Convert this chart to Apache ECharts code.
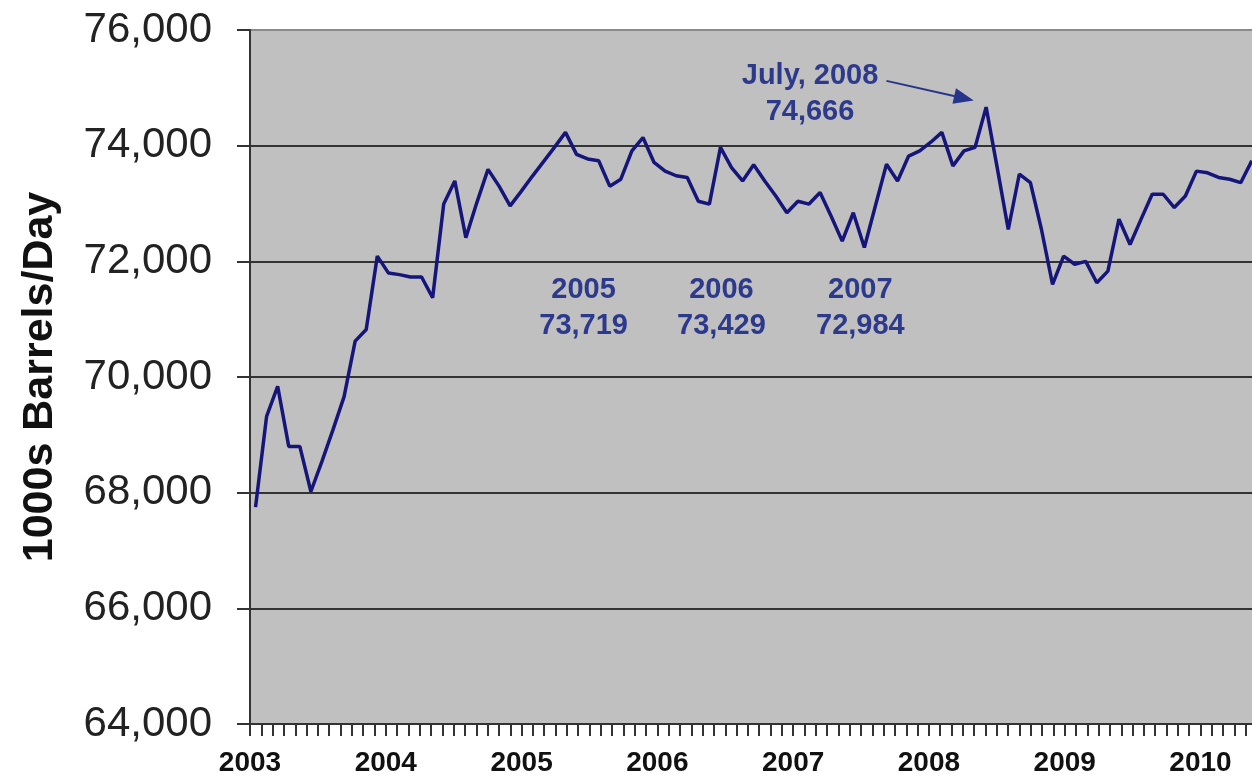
<!DOCTYPE html>
<html>
<head>
<meta charset="utf-8">
<script src="https://cdn.jsdelivr.net/npm/echarts@6/dist/echarts.min.js"></script>
<style>
html,body{margin:0;padding:0;background:#fff;}
#chart{width:1252px;height:777px;}
</style>
</head>
<body>
<div id="chart"></div>
<script>
// ---- data ----
const monthNames = ['Jan','Feb','Mar','Apr','May','Jun','Jul','Aug','Sep','Oct','Nov','Dec'];
const years = [2003, 2004, 2005, 2006, 2007, 2008, 2009, 2010];
const yearLabels = ['2003','2004','2005','2006','2007','2008','2009','2010'];
// monthly world oil production, 1000s barrels/day, from Jan 2003
const production2003 = [67750, 69320, 69840, 68800, 68800, 68020, 68540, 69090, 69660, 70620, 70820, 72090];
const production2004 = [71800, 71770, 71730, 71730, 71370, 72990, 73390, 72410, 73020, 73590, 73300, 72960];
const production2005 = [73210, 73470, 73720, 73970, 74230, 73850, 73770, 73740, 73300, 73420, 73910, 74140];
const production2006 = [73710, 73560, 73480, 73450, 73040, 72990, 73970, 73620, 73390, 73670, 73390, 73130];
const production2007 = [72840, 73040, 72990, 73190, 72780, 72350, 72840, 72240, 72960, 73680, 73390, 73820];
const production2008 = [73910, 74060, 74230, 73650, 73910, 73970, 74666, 73620, 72550, 73510, 73360, 72550];
const production2009 = [71600, 72090, 71950, 72000, 71630, 71830, 72730, 72290, 72730, 73160, 73160, 72930];
const production2010 = [73130, 73560, 73530, 73450, 73420, 73360, 73740];
const yTicks = [64000, 66000, 68000, 70000, 72000, 74000, 76000];
const yearAverages = [
  {year: '2005', value: '73,719'},
  {year: '2006', value: '73,429'},
  {year: '2007', value: '72,984'}
];
const peakLabel = {month: 'July, 2008', value: '74,666'};

// ---- build ----
const categories = [];
years.forEach(y => monthNames.forEach(m => categories.push(m + ' ' + y)));
const shownCats = categories.slice(0, 92);
const series = [].concat(production2003, production2004, production2005, production2006,
  production2007, production2008, production2009, production2010);
const tickCats = [];
for (let k = 0; k <= 90; k++) tickCats.push('t' + k);

const FONT = "'Liberation Sans', Arial, sans-serif";
const NAVY = '#15157a';
const ANNO = '#2d3a8c';

const chart = echarts.init(document.getElementById('chart'), null, {renderer: 'canvas'});
const annoLabel = {
  show: true, position: 'inside', color: ANNO, fontFamily: FONT,
  fontWeight: 'bold', fontSize: 29, lineHeight: 36
};
chart.setOption({
  animation: false,
  backgroundColor: '#ffffff',
  grid: {
    left: 250, top: 30, bottom: 53, width: 1018.4,
    outerBoundsMode: 'none',
    show: true, backgroundColor: '#c0c0c0', borderWidth: 0, containLabel: false
  },
  xAxis: [
    {
      type: 'category', data: shownCats, boundaryGap: true, position: 'bottom',
      axisLine: {show: true, lineStyle: {color: '#333', width: 2}},
      axisTick: {show: false}, axisLabel: {show: false}, splitLine: {show: false}
    },
    {
      type: 'category', data: tickCats, boundaryGap: false, position: 'bottom',
      axisLine: {show: false},
      axisTick: {show: true, interval: 0, length: 12, lineStyle: {color: '#333', width: 2}},
      axisLabel: {
        show: true, interval: 11, margin: 25,
        formatter: (v, idx) => yearLabels[idx / 12] || '',
        color: '#111', fontFamily: FONT, fontWeight: 'bold', fontSize: 28
      },
      splitLine: {show: false}
    }
  ],
  yAxis: {
    type: 'value', min: yTicks[0], max: yTicks[yTicks.length - 1], interval: 2000,
    name: '1000s Barrels/Day', nameLocation: 'middle', nameGap: 188,
    nameTextStyle: {color: '#111', fontFamily: FONT, fontWeight: 'bold', fontSize: 43},
    axisLine: {show: true, lineStyle: {color: '#333', width: 2}},
    axisTick: {show: true, length: 13, lineStyle: {color: '#333', width: 2}},
    axisLabel: {
      margin: 38, color: '#222', fontFamily: FONT, fontSize: 42,
      formatter: v => v.toLocaleString('en-US')
    },
    splitLine: {show: true, lineStyle: {color: ['#333','#333','#333','#333','#333','#333','#8a8a8a'], width: 2}}
  },
  series: [{
    type: 'line', xAxisIndex: 0, data: series, symbol: 'none',
    lineStyle: {color: NAVY, width: 3.5}, itemStyle: {color: NAVY},
    markPoint: {
      symbol: 'circle', symbolSize: 1, itemStyle: {color: 'rgba(0,0,0,0)'},
      silent: true,
      data: [
        {coord: [categories[30], 71200], label: Object.assign({}, annoLabel, {offset: [-4, 0], formatter: yearAverages[0].year + '\n' + yearAverages[0].value})},
        {coord: [categories[42], 71200], label: Object.assign({}, annoLabel, {offset: [1, 0], formatter: yearAverages[1].year + '\n' + yearAverages[1].value})},
        {coord: [categories[55], 71200], label: Object.assign({}, annoLabel, {offset: [-4, 0], formatter: yearAverages[2].year + '\n' + yearAverages[2].value})},
        {coord: [categories[50], 74900], label: Object.assign({}, annoLabel, {offset: [1, 0], formatter: peakLabel.month + '\n' + peakLabel.value})}
      ]
    },
    markLine: {
      silent: true, symbol: ['none', 'triangle'], symbolSize: [16, 20],
      label: {show: false},
      lineStyle: {color: '#26348a', width: 2, type: 'solid'},
      data: [[{coord: [categories[57], 75120]}, {coord: [categories[64], 74820]}]]
    }
  }]
});
</script>
</body>
</html>
